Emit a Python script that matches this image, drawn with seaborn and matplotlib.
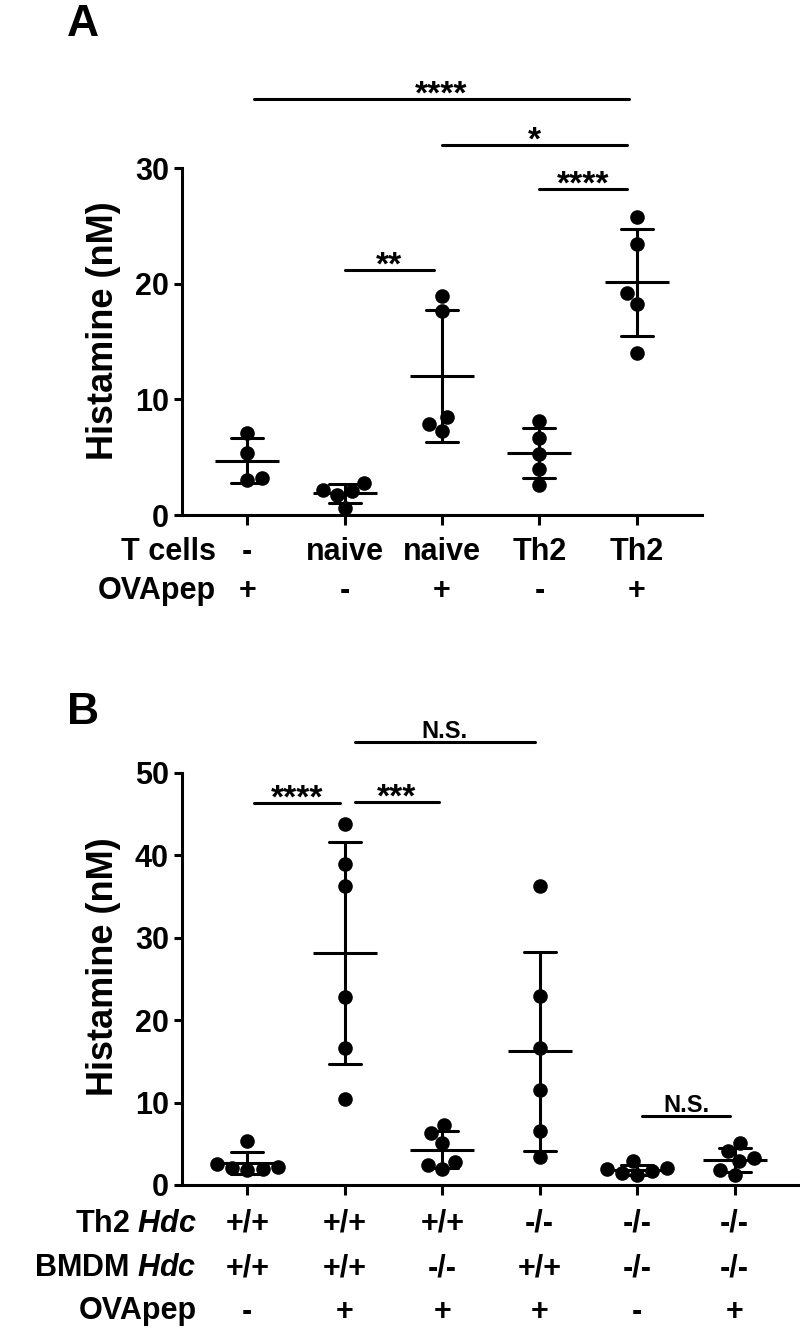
import numpy as np
import pandas as pd
import matplotlib
matplotlib.use('Agg')
import matplotlib.pyplot as plt
import seaborn as sns

# panel A data (histamine, nM)
a_groups = ['g0', 'g1', 'g2', 'g3', 'g4']
a_tcells = ['-', 'naive', 'naive', 'Th2', 'Th2']
a_ova = ['+', '-', '+', '-', '+']
a_vals = [
    [7.1, 5.4, 3.2, 3.0],
    [2.8, 2.2, 2.1, 1.7, 0.6],
    [18.9, 17.6, 8.5, 7.9, 7.3],
    [8.1, 6.7, 5.3, 4.0, 2.6],
    [25.8, 23.4, 19.2, 18.2, 14.0],
]
a_sig = [(0.07, 3.92, 36.0, '****'), (2.0, 3.9, 32.0, '*'),
         (3.0, 3.9, 28.2, '****'), (1.0, 1.92, 21.2, '**')]

# panel B data
b_groups = ['h0', 'h1', 'h2', 'h3', 'h4', 'h5']
b_th2 = ['+/+', '+/+', '+/+', '-/-', '-/-', '-/-']
b_bmdm = ['+/+', '+/+', '-/-', '+/+', '-/-', '-/-']
b_ova = ['-', '+', '+', '+', '-', '+']
b_vals = [
    [5.4, 2.5, 2.2, 2.1, 1.9, 1.8],
    [43.8, 38.9, 36.3, 22.8, 16.6, 10.4],
    [7.3, 6.3, 5.1, 2.8, 2.4, 1.9],
    [36.3, 22.9, 16.6, 11.5, 6.6, 3.4],
    [2.9, 2.1, 1.9, 1.7, 1.4, 1.2],
    [5.1, 4.1, 3.3, 2.9, 1.8, 1.2],
]
b_sig = [(0.07, 0.95, 46.4, '****'), (1.1, 1.97, 46.5, '***'),
         (1.1, 2.95, 53.8, 'N.S.'), (4.05, 4.95, 8.4, 'N.S.')]

sns.set_theme(style='ticks')
plt.rcParams['font.family'] = ['Liberation Sans', 'DejaVu Sans']
plt.rcParams['font.weight'] = 'bold'
plt.rcParams['mathtext.fontset'] = 'custom'
plt.rcParams['mathtext.it'] = 'Liberation Sans:italic:bold'
plt.rcParams['mathtext.rm'] = 'Liberation Sans:bold'
for key in ['text.color', 'axes.labelcolor', 'xtick.color', 'ytick.color', 'axes.edgecolor']:
    plt.rcParams[key] = 'black'

LW = 2.2
PX = 0.72  # points per pixel at dpi 100


def draw_panel(ax, groups, vals, ymax, sig):
    rows = [(g, v) for g, vs in zip(groups, vals) for v in vs]
    df = pd.DataFrame(rows, columns=['group', 'histamine'])
    sns.swarmplot(data=df, x='group', y='histamine', order=groups,
                  color='black', size=10.5, ax=ax)
    sns.pointplot(data=df, x='group', y='histamine', order=groups,
                  errorbar='sd', capsize=0.33, linestyle='none', marker='_',
                  markersize=46, markeredgewidth=LW, color='black',
                  err_kws={'linewidth': LW}, ax=ax)
    for c in ax.collections:
        c.set_clip_on(False)
    for ln in ax.lines:
        ln.set_clip_on(False)
    ax.set_xlim(-0.67, len(groups) - 0.33)
    ax.set_ylim(0, ymax)
    ax.set_xlabel('')
    ax.set_ylabel('Histamine (nM)', fontsize=26, fontweight='bold', labelpad=10)
    ax.yaxis.label.set_y(0.53)
    ax.set_yticks(np.arange(0, ymax + 1, 10))
    ax.tick_params(axis='y', direction='out', length=6, width=LW, labelsize=22)
    ax.tick_params(axis='x', direction='out', length=7, width=LW, labelbottom=False)
    for t in ax.get_yticklabels():
        t.set_fontweight('bold')
    sns.despine(ax=ax)
    for s in ['left', 'bottom']:
        ax.spines[s].set_linewidth(LW)
    # significance bars
    for x1, x2, y, lab in sig:
        ax.plot([x1, x2], [y, y], color='black', lw=LW, clip_on=False)
        if lab == 'N.S.':
            ax.annotate(lab, xy=((x1 + x2) / 2, y), xytext=(0, 4 * PX),
                        textcoords='offset points', ha='center', va='baseline',
                        fontsize=17, fontweight='bold', annotation_clip=False)
        else:
            ax.annotate(lab, xy=((x1 + x2) / 2, y), xytext=(0, -5 * PX),
                        textcoords='offset points', ha='center', va='baseline',
                        fontsize=24, fontweight='bold', annotation_clip=False)


def label_rows(ax, headers, rows, offsets, head_dx):
    for head, labs, off in zip(headers, rows, offsets):
        ax.annotate(head, xy=(0, 0), xycoords='axes fraction',
                    xytext=(head_dx * PX, -off * PX), textcoords='offset points',
                    ha='right', va='center_baseline', fontsize=22, fontweight='bold')
        for i, lab in enumerate(labs):
            ax.annotate(lab, xy=(i, 0), xycoords=('data', 'axes fraction'),
                        xytext=(0, -off * PX), textcoords='offset points',
                        ha='center', va='center_baseline', fontsize=22,
                        fontweight='bold')


fig = plt.figure(figsize=(8, 13.28), dpi=100)
axA = fig.add_axes([182 / 800, 1 - 515 / 1328, 520 / 800, 347 / 1328])
axB = fig.add_axes([182 / 800, 1 - 1185 / 1328, 618 / 800, 412 / 1328])

draw_panel(axA, a_groups, a_vals, 30, a_sig)
draw_panel(axB, b_groups, b_vals, 50, b_sig)

label_rows(axA, ['T cells', 'OVApep'], [a_tcells, a_ova], [33, 72], 34)
label_rows(axB, ['Th2 $\\mathit{Hdc}$', 'BMDM $\\mathit{Hdc}$', 'OVApep'],
           [b_th2, b_bmdm, b_ova], [35, 80, 123], 15)

fig.text(67 / 800, 1 - 4 / 1328, 'A', fontsize=32, fontweight='bold', va='top', ha='left')
fig.text(67 / 800, 1 - 692 / 1328, 'B', fontsize=32, fontweight='bold', va='top', ha='left')

fig.savefig('out.png', dpi=100)
